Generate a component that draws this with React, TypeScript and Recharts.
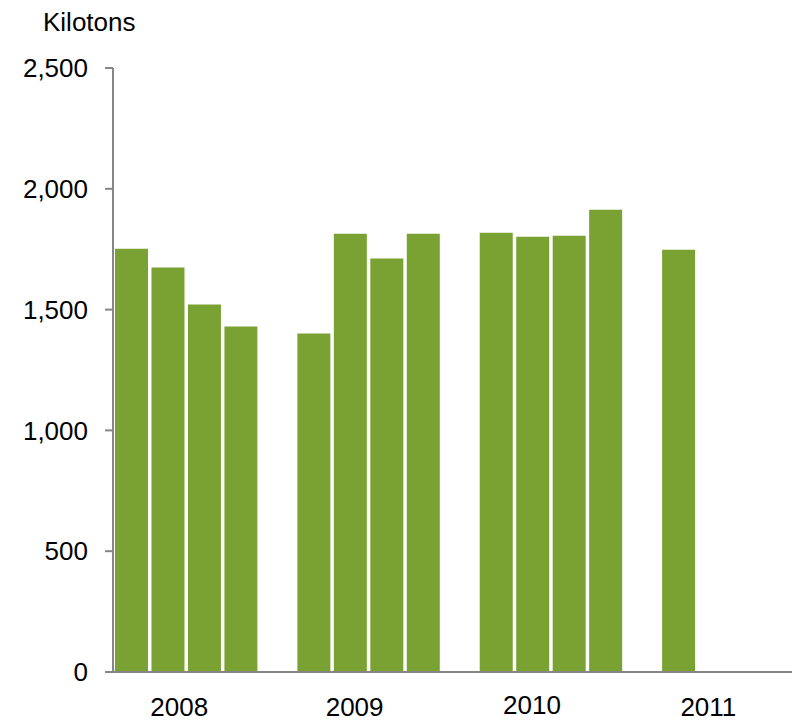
import { BarChart, Bar, XAxis, YAxis } from 'recharts'

const YEARS = ['2008', '2009', '2010', '2011']
const KT_2008 = [1752, 1674, 1521, 1430]
const KT_2009 = [1401, 1814, 1711, 1814]
const KT_2010 = [1818, 1802, 1806, 1913]
const KT_2011 = [1748, null, null, null]
const Y_TICKS = [0, 500, 1000, 1500, 2000, 2500]

const BAR = '#79a232'
const AXIS = '#868686'
const FONT = '"Liberation Sans", Arial, sans-serif'
// year labels drift left of the group centres in the original
const LABEL_DX = [48, 41, 36, 30]
const LABEL_DY = [0, 0, -2, 0]

const byYear = [KT_2008, KT_2009, KT_2010, KT_2011]
const data = YEARS.flatMap((y, i) => {
  const rows = byYear[i].map((v, q) => ({ slot: `${y} Q${q + 1}`, kilotons: v }))
  // one empty slot between years
  return i < YEARS.length - 1 ? [...rows, { slot: `${y} gap`, kilotons: null }] : rows
})

function YearTick({ x, y, payload }: { x?: number; y?: number; payload?: { value: string } }) {
  const [yr, q] = String(payload?.value ?? '').split(' ')
  if (q !== 'Q1') return null
  const i = YEARS.indexOf(yr)
  return (
    <text x={(x ?? 0) + LABEL_DX[i]} y={(y ?? 0) + 44 + LABEL_DY[i]} textAnchor="middle" fill="#000" fontSize={26} fontFamily={FONT}>
      {yr}
    </text>
  )
}

export default function App() {
  return (
    <div style={{ position: 'absolute', left: 0, top: 0, width: 792, height: 722, overflow: 'hidden', background: '#fff' }}>
      <div style={{ position: 'absolute', left: 43, top: 9, fontFamily: FONT, fontSize: 26, lineHeight: '26px', color: '#000' }}>
        Kilotons
      </div>
      <BarChart width={806} height={722} data={data} margin={{ top: 68, right: 0, bottom: 0, left: 0 }}>
        <XAxis
          dataKey="slot"
          height={50}
          interval={0}
          tickSize={0}
          tickMargin={0}
          tickLine={false}
          axisLine={{ stroke: AXIS, strokeWidth: 2 }}
          tick={<YearTick />}
        />
        <YAxis
          type="number"
          domain={[0, 2500]}
          ticks={Y_TICKS}
          width={113}
          tickSize={8}
          tickMargin={17}
          tickFormatter={(v: number) => v.toLocaleString('en-US')}
          tick={{ fill: '#000', fontSize: 26, fontFamily: FONT }}
          axisLine={{ stroke: AXIS, strokeWidth: 2 }}
          tickLine={{ stroke: AXIS, strokeWidth: 2 }}
        />
        <Bar dataKey="kilotons" fill={BAR} barSize={33} isAnimationActive={false} />
      </BarChart>
    </div>
  )
}
